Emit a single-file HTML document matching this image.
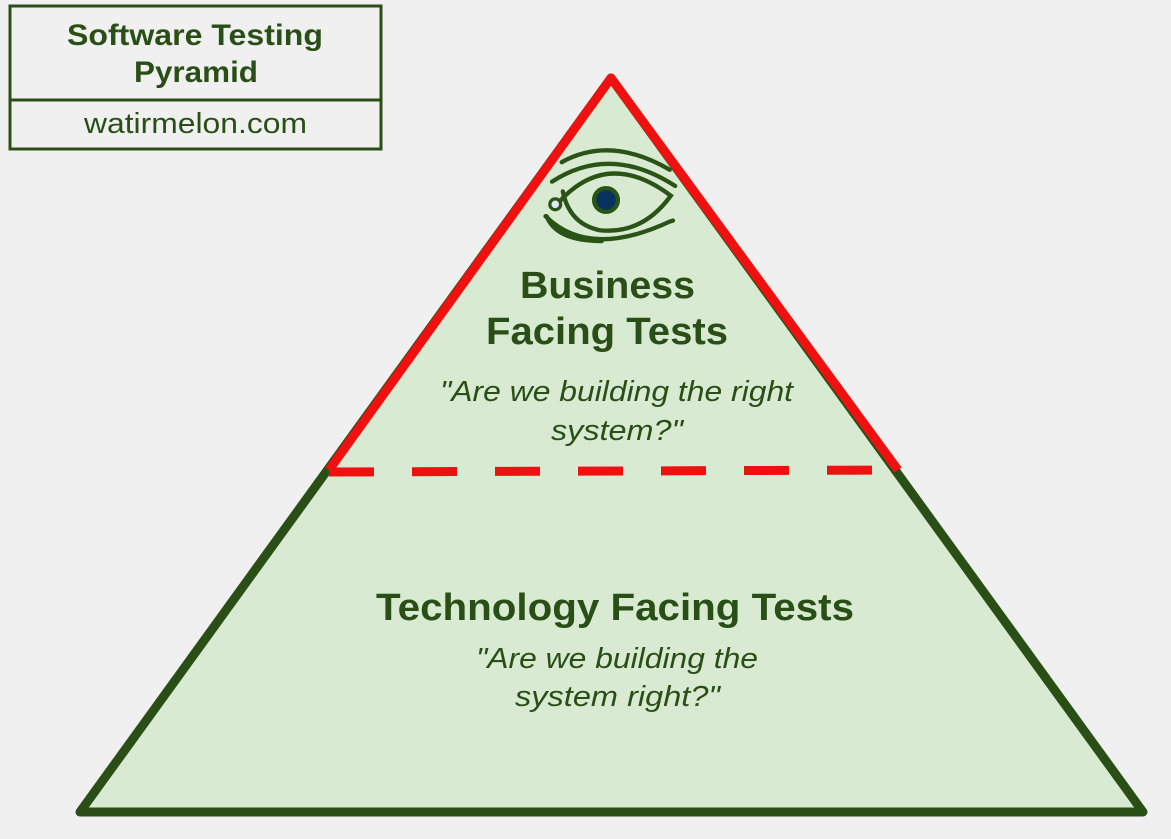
<!DOCTYPE html>
<html><head><meta charset="utf-8"><style>
html,body{margin:0;padding:0;background:#f0f0f0;}
svg{display:block;font-family:"Liberation Sans",sans-serif;}
</style></head><body>
<svg width="1171" height="839" viewBox="0 0 1171 839">
<g>
<rect x="10" y="6" width="371" height="143" fill="#f0f0f0" stroke="#2a4f16" stroke-width="3"/>
<line x1="10" y1="100" x2="381" y2="100" stroke="#2a4f16" stroke-width="3"/>
<text x="67" y="45" textLength="256" lengthAdjust="spacingAndGlyphs" font-size="30" font-weight="bold" fill="#2a4f16">Software Testing</text>
<text x="134" y="82" textLength="124" lengthAdjust="spacingAndGlyphs" font-size="30" font-weight="bold" fill="#2a4f16">Pyramid</text>
<text x="84" y="133" textLength="223" lengthAdjust="spacingAndGlyphs" font-size="29" fill="#2a4f16">watirmelon.com</text>
</g>
<polygon points="611,78 80,812 1143,812" fill="#d9ead3" stroke="#2a4f16" stroke-width="9" stroke-linejoin="round"/>
<polyline points="329,470 611,78 898,470" fill="none" stroke="#f01010" stroke-width="9" stroke-linejoin="round"/>
<line x1="329" y1="472" x2="898" y2="470" stroke="#f01010" stroke-width="9" stroke-dasharray="45,38"/>
<g fill="none" stroke="#2a5416" stroke-width="4" stroke-linecap="round" transform="translate(606,200) scale(1.08) translate(-606,-200)">
<path d="M565,165 Q610,140 665,172"/>
<path d="M556,183 Q610,148 670,187"/>
<path d="M558,207 Q605,150 666,196 Q640,232 600,228 Q572,222 566,192"/>
<path d="M550,215 Q590,255 665,220 L668,219"/>
<path d="M551,215 Q560,238 602,238"/>
<circle cx="606" cy="200" r="11" fill="#06325f"/>
<circle cx="559" cy="204" r="5" fill="#dde8f4" stroke-width="3"/>
</g>
<g fill="#2a4f16">
<text x="520" y="298" textLength="175" lengthAdjust="spacingAndGlyphs" font-size="38" font-weight="bold">Business</text>
<text x="486" y="344" textLength="242" lengthAdjust="spacingAndGlyphs" font-size="38" font-weight="bold">Facing Tests</text>
<text x="440" y="401" textLength="353" lengthAdjust="spacingAndGlyphs" font-size="29" font-style="italic">"Are we building the right</text>
<text x="551" y="440" textLength="132" lengthAdjust="spacingAndGlyphs" font-size="29" font-style="italic">system?"</text>
<text x="376" y="620" textLength="478" lengthAdjust="spacingAndGlyphs" font-size="38" font-weight="bold">Technology Facing Tests</text>
<text x="476" y="668" textLength="282" lengthAdjust="spacingAndGlyphs" font-size="29" font-style="italic">"Are we building the</text>
<text x="515" y="706" textLength="205" lengthAdjust="spacingAndGlyphs" font-size="29" font-style="italic">system right?"</text>
</g>
</svg>
</body></html>
